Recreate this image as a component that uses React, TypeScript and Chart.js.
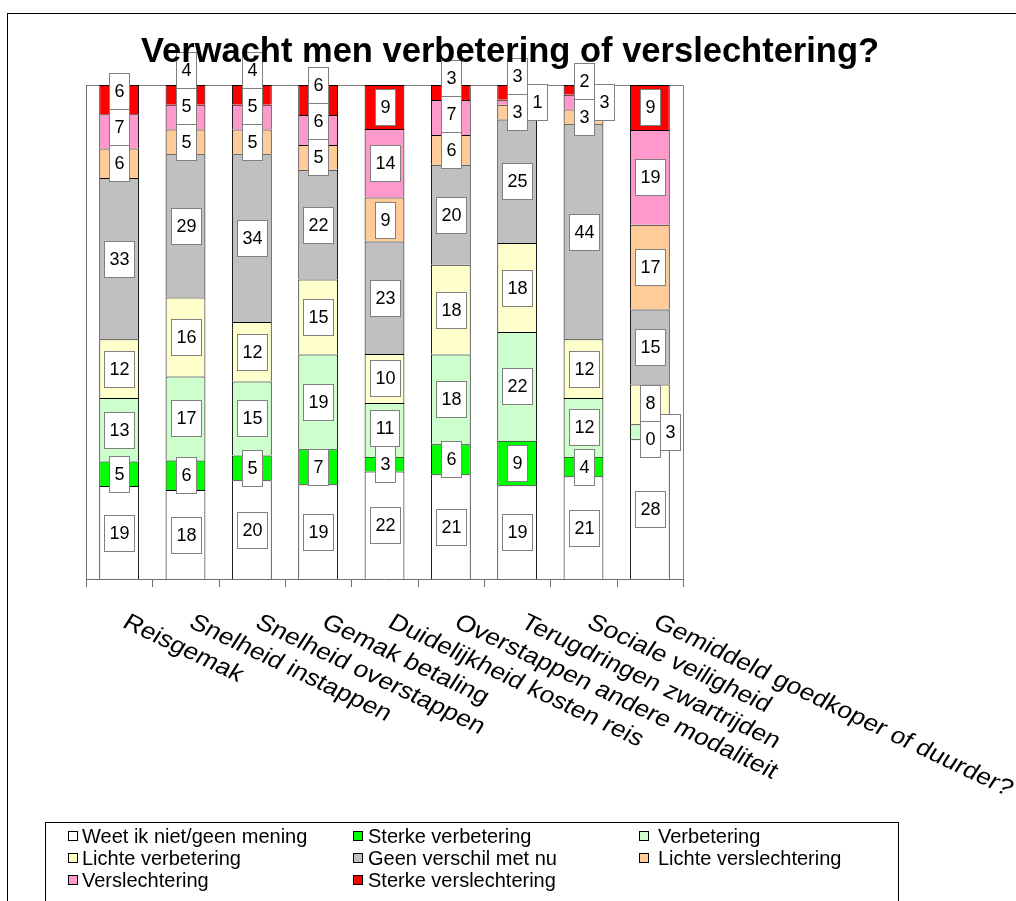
import React, { useEffect, useRef } from 'react';
import { Chart, registerables } from 'chart.js';

Chart.register(...registerables);

const FONT = '"Liberation Sans", Arial, sans-serif';

const categories = [
  'Reisgemak',
  'Snelheid instappen',
  'Snelheid overstappen',
  'Gemak betaling',
  'Duidelijkheid kosten reis',
  'Overstappen andere modaliteit',
  'Terugdringen zwartrijden',
  'Sociale veiligheid',
  'Gemiddeld goedkoper of duurder?',
];

const seriesNames = [
  'Weet ik niet/geen mening',
  'Sterke verbetering',
  'Verbetering',
  'Lichte verbetering',
  'Geen verschil met nu',
  'Lichte verslechtering',
  'Verslechtering',
  'Sterke verslechtering',
];

const weetNiet = [19, 18, 20, 19, 22, 21, 19, 21, 28];
const sterkeVerbetering = [5, 6, 5, 7, 3, 6, 9, 4, 0];
const verbetering = [13, 17, 15, 19, 11, 18, 22, 12, 3];
const lichteVerbetering = [12, 16, 12, 15, 10, 18, 18, 12, 8];
const geenVerschil = [33, 29, 34, 22, 23, 20, 25, 44, 15];
const lichteVerslechtering = [6, 5, 5, 5, 9, 6, 3, 3, 17];
const verslechtering = [7, 5, 5, 6, 14, 7, 1, 3, 19];
const sterkeVerslechtering = [6, 4, 4, 6, 9, 3, 3, 2, 9];

const seriesColors = ['#FFFFFF', '#00FF00', '#CCFFCC', '#FFFFCC', '#C0C0C0', '#FFCC99', '#FF99CC', '#FF0000'];

const titleText = 'Verwacht men verbetering of verslechtering?';

const rawSeries = [
  weetNiet,
  sterkeVerbetering,
  verbetering,
  lichteVerbetering,
  geenVerschil,
  lichteVerslechtering,
  verslechtering,
  sterkeVerslechtering,
];

const totals = categories.map((_, i) => rawSeries.reduce((s, arr) => s + arr[i], 0));

type Box = { cx: number; cy: number; w: number; h: number; shifted: boolean; text: string; raw: number };

const customPlugin = {
  id: 'excelLook',
  beforeDatasetsDraw(chart: any) {
    const ctx = chart.ctx as CanvasRenderingContext2D;
    const { left, right, top, bottom } = chart.chartArea;
    ctx.save();
    ctx.strokeStyle = '#808080';
    ctx.lineWidth = 1;
    ctx.beginPath();
    ctx.moveTo(left, Math.round(top) + 0.5);
    ctx.lineTo(Math.round(right) + 0.5, Math.round(top) + 0.5);
    ctx.lineTo(Math.round(right) + 0.5, bottom);
    ctx.stroke();
    ctx.restore();
  },
  afterDatasetsDraw(chart: any) {
    const ctx = chart.ctx as CanvasRenderingContext2D;
    const { left, right, top, bottom } = chart.chartArea;
    const xs = chart.scales.x;
    const n = categories.length;
    ctx.save();
    ctx.strokeStyle = '#707070';
    ctx.lineWidth = 1;
    ctx.beginPath();
    ctx.moveTo(Math.round(left) + 0.5, top);
    ctx.lineTo(Math.round(left) + 0.5, bottom + 8);
    ctx.moveTo(left, Math.round(bottom) + 0.5);
    ctx.lineTo(right, Math.round(bottom) + 0.5);
    for (let i = 0; i <= n; i++) {
      let x: number;
      if (i === 0) x = left;
      else if (i === n) x = right;
      else x = (xs.getPixelForValue(i - 1) + xs.getPixelForValue(i)) / 2;
      ctx.moveTo(Math.round(x) + 0.5, bottom);
      ctx.lineTo(Math.round(x) + 0.5, bottom + 8);
    }
    ctx.stroke();

    // data labels
    ctx.font = `18px ${FONT}`;
    const metas = chart.data.datasets.map((_: any, d: number) => chart.getDatasetMeta(d));
    const allow = 0;
    for (let i = 0; i < n; i++) {
      const boxes: Box[] = [];
      let prev: Box | null = null;
      for (let d = 0; d < metas.length; d++) {
        const el = metas[d].data[i];
        const p = el.getProps(['x', 'y', 'base'], true);
        const raw = rawSeries[d][i];
        const text = String(raw);
        const w = Math.round(ctx.measureText(text).width + 10);
        const h = 36;
        let cx = p.x;
        let cy = (p.y + p.base) / 2;
        let shifted = false;
        const vOv = (b: Box) => Math.min(cy + h / 2, b.cy + b.h / 2) - Math.max(cy - h / 2, b.cy - b.h / 2);
        const hOv = (b: Box) => Math.min(cx + w / 2, b.cx + b.w / 2) - Math.max(cx - w / 2, b.cx - b.w / 2);
        if (prev && !prev.shifted && raw <= 3 && prev.raw <= 3 && vOv(prev) > 4 && hOv(prev) > 0) {
          cx = prev.cx + prev.w / 2 + w / 2;
          shifted = true;
        } else {
          for (let k = boxes.length - 1; k >= 0; k--) {
            const b = boxes[k];
            if (b.shifted) continue;
            if (hOv(b) > 0 && vOv(b) > allow) {
              cy = b.cy - b.h / 2 + allow - h / 2;
            }
          }
        }
        const box = { cx, cy, w, h, shifted, text, raw };
        boxes.push(box);
        prev = box;
      }
      for (const b of boxes) {
        const x0 = Math.round(b.cx - b.w / 2) + 0.5;
        const y0 = Math.round(b.cy - b.h / 2) + 0.5;
        ctx.fillStyle = '#FFFFFF';
        ctx.fillRect(x0, y0, b.w, b.h);
        ctx.strokeStyle = '#808080';
        ctx.strokeRect(x0, y0, b.w, b.h);
        ctx.fillStyle = '#000000';
        ctx.textAlign = 'center';
        ctx.textBaseline = 'middle';
        ctx.fillText(b.text, x0 + b.w / 2, y0 + b.h / 2 + 1);
      }
    }
    ctx.restore();
  },
  afterDraw(chart: any) {
    const ctx = chart.ctx as CanvasRenderingContext2D;
    const { bottom } = chart.chartArea;
    const xs = chart.scales.x;
    ctx.save();
    // title
    ctx.fillStyle = '#000';
    ctx.font = `bold 34.5px ${FONT}`;
    ctx.textAlign = 'center';
    ctx.textBaseline = 'alphabetic';
    ctx.fillText(titleText, 502, 48);

    // category labels (rotated, slightly widened like the original rendering)
    ctx.font = `23px ${FONT}`;
    ctx.textAlign = 'left';
    ctx.textBaseline = 'top';
    const ang = (29 * Math.PI) / 180;
    categories.forEach((c, i) => {
      const x = xs.getPixelForValue(i) + 12;
      const y = bottom + 32;
      ctx.save();
      ctx.translate(x, y);
      ctx.scale(1.16, 1);
      ctx.rotate(ang);
      ctx.fillText(c, 0, 0);
      ctx.restore();
    });

    // legend
    const lx = 37.5;
    const ly = 808.5;
    ctx.strokeStyle = '#000';
    ctx.lineWidth = 1;
    ctx.strokeRect(lx, ly, 853, 200);
    const swatchX = [60, 345, 631];
    const textX = [74, 360, 650];
    const rowY = [822, 844, 866];
    ctx.font = `20px ${FONT}`;
    ctx.textBaseline = 'middle';
    seriesNames.forEach((name, k) => {
      const r = Math.floor(k / 3);
      const cidx = k % 3;
      const sx = swatchX[cidx];
      const sy = rowY[r];
      ctx.fillStyle = seriesColors[k];
      ctx.fillRect(sx + 0.5, sy - 4.5, 9, 9);
      ctx.strokeStyle = '#000';
      ctx.strokeRect(sx + 0.5, sy - 4.5, 9, 9);
      ctx.fillStyle = '#000';
      ctx.fillText(name, textX[cidx], sy + 1);
    });
    ctx.restore();
  },
};

export default function App() {
  const ref = useRef<HTMLCanvasElement>(null);
  useEffect(() => {
    const canvas = ref.current;
    if (!canvas) return;
    const chart = new Chart(canvas, {
      type: 'bar',
      data: {
        labels: categories,
        datasets: seriesNames.map((name, d) => ({
          label: name,
          data: rawSeries[d].map((v, i) => (v / totals[i]) * 100),
          backgroundColor: seriesColors[d],
          borderColor: '#000000',
          borderWidth: 1,
          categoryPercentage: 1,
          barPercentage: 0.6,
        })),
      },
      options: {
        animation: false,
        responsive: false,
        devicePixelRatio: 1,
        layout: { padding: { left: 78, top: 71, right: 333, bottom: 322 } },
        plugins: {
          legend: { display: false },
          title: { display: false },
          tooltip: { enabled: false },
        },
        scales: {
          x: { stacked: true, display: false },
          y: { stacked: true, display: false, min: 0, max: 100 },
        },
      },
      plugins: [customPlugin],
    });
    return () => chart.destroy();
  }, []);
  return (
    <div
      style={{
        position: 'absolute',
        left: 7,
        top: 13,
        width: 1009,
        height: 888,
        borderTop: '1px solid #000',
        borderLeft: '1px solid #000',
        boxSizing: 'border-box',
        overflow: 'hidden',
        background: '#fff',
      }}
    >
      <canvas ref={ref} width={1008} height={887} style={{ display: 'block', width: 1008, height: 887 }} />
    </div>
  );
}
